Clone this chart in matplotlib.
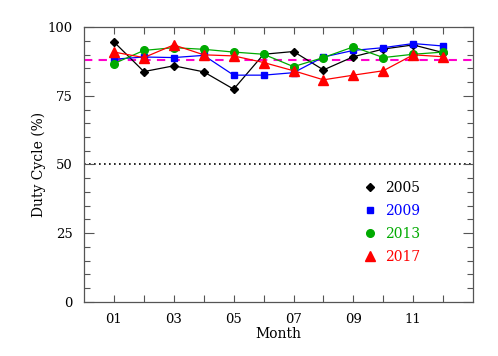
import numpy as np
import matplotlib
matplotlib.use('Agg')
from matplotlib import pyplot as plt
from matplotlib.lines import Line2D

plt.rcParams['font.family'] = 'DejaVu Serif'

months = np.arange(1, 13)
duty_2005 = [94.6, 83.8, 85.9, 83.7, 77.4, 90.1, 91.1, 84.4, 89.2, 92.0, 93.5, 90.7]
duty_2009 = [88.3, 89.1, 88.9, 89.7, 82.5, 82.5, 83.4, 89.1, 91.5, 92.5, 94.0, 93.1]
duty_2013 = [86.7, 91.5, 92.5, 91.9, 90.9, 90.1, 85.6, 88.9, 92.8, 88.9, 90.1, 90.9]
duty_2017 = [90.9, 88.9, 93.5, 89.9, 89.5, 87.1, 84.1, 80.8, 82.5, 84.1, 89.9, 89.2]
mean_level = 88.0
xticklabels = ['01', '03', '05', '07', '09', '11']

fig = plt.figure(figsize=(4.98, 3.56), dpi=100)
ax = fig.add_axes([0.1687, 0.152, 0.7813, 0.772])

ax.plot([0, 13], [mean_level, mean_level], color='#ff00cc', ls=(0, (4, 3)), lw=1.5, zorder=1)
ax.plot([0, 13], [50, 50], color='black', ls=(0, (1, 2)), lw=1.2, zorder=1)

series = [('2005', duty_2005, 'black', 'D', 4.5),
          ('2009', duty_2009, 'blue', 's', 4.5),
          ('2013', duty_2013, '#00aa00', 'o', 5.5),
          ('2017', duty_2017, 'red', '^', 6.5)]

handles = []
for name, vals, c, m, ms in series:
    ax.plot(months, vals, color=c, marker=m, ms=ms, lw=0.9, zorder=3)
    handles.append(Line2D([], [], color=c, marker=m, ms=ms, ls='none', label=name))

leg = ax.legend(handles=handles, loc='upper left', bbox_to_anchor=(0.685, 0.485),
                frameon=False, handlelength=1.0, handletextpad=0.6, labelspacing=0.65,
                fontsize=10, labelcolor='markerfacecolor')

ax.set_xlim(0, 13)
ax.set_ylim(0, 100)
ax.set_xticks(range(1, 13), minor=True)
ax.set_xticks([1, 3, 5, 7, 9, 11])
ax.set_xticklabels(xticklabels)
ax.set_yticks([0, 25, 50, 75, 100])
ax.set_yticks(range(0, 101, 5), minor=True)
ax.tick_params(which='both', direction='in', top=True, right=True, labelsize=9.5, colors='#555555', labelcolor='black')
ax.tick_params(which='major', length=7, width=0.8, pad=8)
ax.tick_params(which='minor', length=4, width=0.8)
ax.tick_params(axis='x', which='minor', length=5)
ax.tick_params(axis='x', which='major', length=5, pad=8)
for s in ax.spines.values():
    s.set_color('#555555')
    s.set_linewidth(0.9)

ax.set_xlabel('Month', fontsize=10, labelpad=1)
ax.set_ylabel('Duty Cycle (%)', fontsize=10, labelpad=1)

fig.savefig('out.png', dpi=100)
